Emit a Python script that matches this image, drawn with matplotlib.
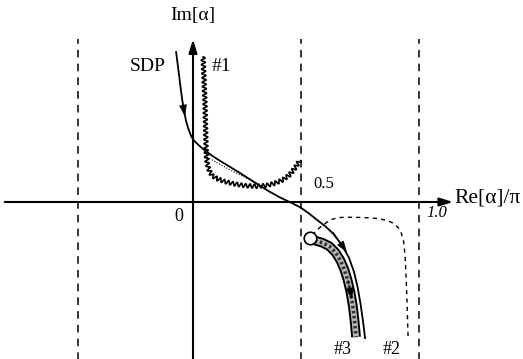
import numpy as np
import matplotlib
matplotlib.use("Agg")
import matplotlib.pyplot as plt
from matplotlib.path import Path

plt.rcParams['font.family'] = ['Liberation Serif', 'DejaVu Serif']

# all values in units: x = Re[alpha]/pi, y = Im[alpha] (same scale)
# steepest descent path
sdp_x = [-0.079, -0.065, -0.051, -0.033, -0.012, 0.0, 0.056, 0.126, 0.220, 0.313, 0.407,
         0.505, 0.579, 0.654, 0.734, 0.771, 0.794, 0.804]
sdp_y = [0.701, 0.593, 0.477, 0.374, 0.315, 0.290, 0.238, 0.192, 0.136, 0.075, 0.019,
         -0.023, -0.084, -0.140, -0.257, -0.397, -0.551, -0.636]

# path #1 (wavy)
p1_x = [0.047, 0.056, 0.061, 0.065, 0.079, 0.103, 0.187, 0.299, 0.383, 0.453, 0.500]
p1_y = [0.678, 0.477, 0.243, 0.180, 0.135, 0.110, 0.083, 0.070, 0.084, 0.121, 0.196]

# dotted link
dot_x = [0.065, 0.173, 0.322]
dot_y = [0.210, 0.150, 0.075]

# path #2 (dashed)
p2_x = [0.556, 0.640, 0.720, 0.874, 0.944, 0.977, 0.991, 1.000, 1.005]
p2_y = [-0.154, -0.075, -0.070, -0.075, -0.098, -0.145, -0.224, -0.458, -0.631]

# path #3 (thick band) and start circle
p3_x = [0.570, 0.640, 0.692, 0.724, 0.748, 0.762]
p3_y = [-0.180, -0.201, -0.271, -0.364, -0.481, -0.631]
circ = (0.547, -0.168)

# branch lines
branch_x = [-0.537, 0.505, 1.056]

fig = plt.figure(figsize=(5.23, 3.59), dpi=100)
ax = fig.add_axes([0, 0, 1, 1])
ax.set_xlim(-193 / 214, 330 / 214)
ax.set_ylim(-157 / 214, 202 / 214)
ax.axis('off')


def smooth(xs, ys):
    # quadratic bezier through midpoints, flattened for plotting
    p = np.column_stack([xs, ys])
    mid = (p[:-1] + p[1:]) / 2
    verts = [p[0], mid[0]]
    codes = [Path.MOVETO, Path.LINETO]
    for i in range(1, len(p) - 1):
        verts += [p[i], mid[i]]
        codes += [Path.CURVE3, Path.CURVE3]
    verts.append(p[-1])
    codes.append(Path.LINETO)
    poly = Path(verts, codes).to_polygons(closed_only=False)[0]
    return poly[:, 0], poly[:, 1]


def wavy(xs, ys, amp=2.0, period=4.4):
    pts = ax.transData.transform(np.column_stack(smooth(xs, ys)))
    seg = np.hypot(*np.diff(pts, axis=0).T)
    keep = np.concatenate([[True], seg > 1e-6])
    pts = pts[keep]
    seg = np.hypot(*np.diff(pts, axis=0).T)
    s = np.concatenate([[0], np.cumsum(seg)])
    ss = np.arange(0, s[-1], 0.4)
    px = np.interp(ss, s, pts[:, 0])
    py = np.interp(ss, s, pts[:, 1])
    dx = np.gradient(px)
    dy = np.gradient(py)
    n = np.hypot(dx, dy)
    off = amp * np.sin(2 * np.pi * ss / period)
    px = px - dy / n * off
    py = py + dx / n * off
    return ax.transData.inverted().transform(np.column_stack([px, py]))


def head(xs, ys, i):
    ax.annotate('', xy=(xs[i + 1], ys[i + 1]), xytext=(xs[i], ys[i]),
                arrowprops=dict(arrowstyle='-|>,head_length=0.9,head_width=0.3',
                                color='black', lw=0.6,
                                mutation_scale=8, shrinkA=0, shrinkB=4))


# axes
ax.annotate('', xy=(1.215, 0), xytext=(-0.88, 0),
            arrowprops=dict(arrowstyle='-|>,head_length=0.8,head_width=0.25',
                            color='black', lw=1.5, mutation_scale=10,
                            shrinkA=0, shrinkB=0))
ax.annotate('', xy=(0, 0.76), xytext=(0, -0.74),
            arrowprops=dict(arrowstyle='-|>,head_length=0.8,head_width=0.25',
                            color='black', lw=1.5, mutation_scale=10,
                            shrinkA=0, shrinkB=0))

for bx in branch_x:
    ax.plot([bx, bx], [-0.74, 0.76], color='black', lw=1.1, ls=(0, (5, 4)))

# SDP
ax.plot(*smooth(sdp_x, sdp_y), color='black', lw=1.3)
head(sdp_x, sdp_y, 2)
head(sdp_x, sdp_y, 13)

# #1
w = wavy(p1_x, p1_y)
ax.plot(w[:, 0], w[:, 1], color='black', lw=1.2)
ax.plot(dot_x, dot_y, color='black', lw=0.8, ls=(0, (1, 1.5)))

# #2
ax.plot(*smooth(p2_x, p2_y), color='black', lw=1.0, ls=(0, (3, 3)))

# #3
bx3, by3 = smooth(p3_x, p3_y)
ax.plot(bx3, by3, color='black', lw=7, solid_capstyle='butt')
ax.plot(bx3, by3, color='#bbbbbb', lw=4.2, solid_capstyle='butt')
ax.plot(bx3, by3, color='#333333', lw=2.6, ls=(0, (0.7, 0.7)))
ax.plot(*circ, marker='o', ms=9, mfc='white', mec='black', mew=1.2)
head(p3_x, p3_y, 3)

# labels
ax.text(0, 0.87, 'Im[α]', fontsize=14, ha='center', va='center')
ax.text(-0.13, 0.632, 'SDP', fontsize=14, ha='right', va='center')
ax.text(0.085, 0.632, '#1', fontsize=14, ha='left', va='center')
ax.text(-0.065, -0.07, '0', fontsize=13, ha='center', va='center')
ax.text(0.61, 0.085, '0.5', fontsize=12, ha='center', va='center')
ax.text(1.14, -0.05, '1.0', fontsize=12, ha='center', va='center',
        style='italic')
ax.text(1.222, 0.02, 'Re[α]/π', fontsize=15.5, ha='left', va='center')
ax.text(0.70, -0.69, '#3', fontsize=13, ha='center', va='center')
ax.text(0.93, -0.69, '#2', fontsize=13, ha='center', va='center')

fig.savefig('out.png', dpi=100)
